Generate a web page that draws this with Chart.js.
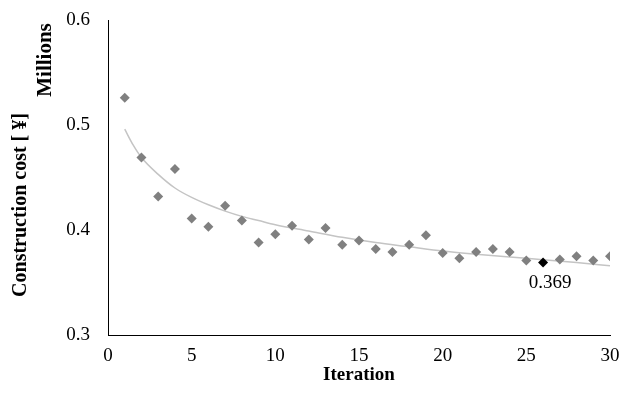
<!DOCTYPE html>
<html>
<head>
<meta charset="utf-8">
<script src="https://cdn.jsdelivr.net/npm/chart.js@4/dist/chart.umd.min.js"></script>
<style>
    html, body { margin: 0; padding: 0; background: #fff; }
    #wrap { width: 620px; height: 402px; }
</style>
</head>
<body>
<div id="wrap"><canvas id="costChart"></canvas></div>
<script>
// iterations and construction cost (millions of yen)
const iterations = [1, 2, 3, 4, 5, 6, 7, 8, 9, 10, 11, 12, 13, 14, 15,
    16, 17, 18, 19, 20, 21, 22, 23, 24, 25, 26, 27, 28, 29, 30];
const costs = [0.526, 0.469, 0.432, 0.458, 0.411, 0.403, 0.423, 0.409, 0.388, 0.396,
    0.404, 0.391, 0.402, 0.386, 0.390, 0.382, 0.379, 0.386, 0.395, 0.378,
    0.373, 0.379, 0.382, 0.379, 0.371, 0.369, 0.372, 0.375, 0.371, 0.375];

// trend line
const trendX = [1, 1.5, 2, 3, 4, 5, 6, 7, 8, 9, 10, 12, 14, 16, 18, 20, 22, 25, 28, 30];
const trendY = [0.496, 0.481, 0.469, 0.453, 0.440, 0.431, 0.424, 0.418, 0.413, 0.409,
    0.405, 0.399, 0.393, 0.388, 0.384, 0.380, 0.377, 0.373, 0.369, 0.366];

const yTicks = [0.3, 0.4, 0.5, 0.6];
const xTicks = [0, 5, 10, 15, 20, 25, 30];

const bestIndex = 25; // lowest cost, labelled
const bestLabel = '0.369';
const yTitle = 'Construction cost [ ¥]';
const yUnit = 'Millions';

const serif = "'Liberation Serif', 'Times New Roman', serif";

function drawRotated(ctx, text, x, y, font) {
    ctx.save();
    ctx.fillStyle = '#000';
    ctx.font = font;
    ctx.textAlign = 'center';
    ctx.textBaseline = 'middle';
    ctx.translate(x, y);
    ctx.rotate(-Math.PI / 2);
    ctx.fillText(text, 0, 0);
    ctx.restore();
}

// y title, display unit and the label of the best point
const extraText = {
    id: 'extraText',
    afterDatasetsDraw(chart) {
        const ctx = chart.ctx;
        const area = chart.chartArea;
        const xs = chart.scales.x;
        const ys = chart.scales.y;

        drawRotated(ctx, yTitle, area.left - 87, area.top + 185, 'bold 20px ' + serif);
        drawRotated(ctx, yUnit, area.left - 62, area.top + 40, 'bold 21px ' + serif);

        ctx.save();
        ctx.fillStyle = '#000';
        ctx.font = '19px ' + serif;
        ctx.textAlign = 'center';
        ctx.textBaseline = 'middle';
        const px = xs.getPixelForValue(iterations[bestIndex]);
        const py = ys.getPixelForValue(costs[bestIndex]);
        ctx.fillText(bestLabel, px + 7, py + 20);
        ctx.restore();
    }
};

const ctx = document.getElementById('costChart').getContext('2d');
new Chart(ctx, {
    data: {
        datasets: [{
            type: 'scatter',
            label: 'Construction cost',
            data: iterations.map((it, i) => ({ x: it, y: costs[i] })),
            pointStyle: 'rectRot',
            pointRadius: 5,
            pointBorderWidth: 0,
            pointBackgroundColor: iterations.map((it, i) => i === bestIndex ? '#000000' : '#808080'),
            pointBorderColor: 'rgba(0,0,0,0)',
            order: 1
        }, {
            type: 'line',
            label: 'Trend',
            data: trendX.map((it, i) => ({ x: it, y: trendY[i] })),
            borderColor: '#c4c4c4',
            borderWidth: 1.5,
            pointRadius: 0,
            fill: false,
            cubicInterpolationMode: 'monotone',
            order: 2
        }]
    },
    options: {
        responsive: true,
        maintainAspectRatio: false,
        animation: false,
        layout: {
            padding: { top: 20, right: 10, left: 0, bottom: 0 }
        },
        plugins: {
            legend: { display: false },
            tooltip: { enabled: false }
        },
        scales: {
            x: {
                type: 'linear',
                min: 0,
                max: 30,
                afterBuildTicks: function (scale) {
                    scale.ticks = xTicks.map(v => ({ value: v }));
                },
                afterFit: function (scale) {
                    scale.height = 67;
                    scale.paddingLeft = 0;
                    scale.paddingRight = 0;
                },
                grid: { display: false, drawTicks: false },
                border: { display: true, color: '#000', width: 1 },
                ticks: {
                    color: '#000',
                    padding: 10,
                    maxRotation: 0,
                    font: { family: serif, size: 19 }
                },
                title: {
                    display: true,
                    text: 'Iteration',
                    color: '#000',
                    padding: { top: 2, bottom: 16 },
                    font: { family: serif, size: 19, weight: 'bold' }
                }
            },
            y: {
                type: 'linear',
                min: 0.3,
                max: 0.6,
                afterBuildTicks: function (scale) {
                    scale.ticks = yTicks.map(v => ({ value: v }));
                },
                afterFit: function (scale) {
                    scale.width = 108;
                    scale.paddingTop = 0;
                    scale.paddingBottom = 0;
                },
                grid: { display: false, drawTicks: false },
                border: { display: true, color: '#000', width: 1 },
                ticks: {
                    color: '#000',
                    padding: 18,
                    font: { family: serif, size: 19 },
                    callback: function (value) {
                        return value.toFixed(1);
                    }
                },
                title: { display: false }
            }
        }
    },
    plugins: [extraText]
});
</script>
</body>
</html>
